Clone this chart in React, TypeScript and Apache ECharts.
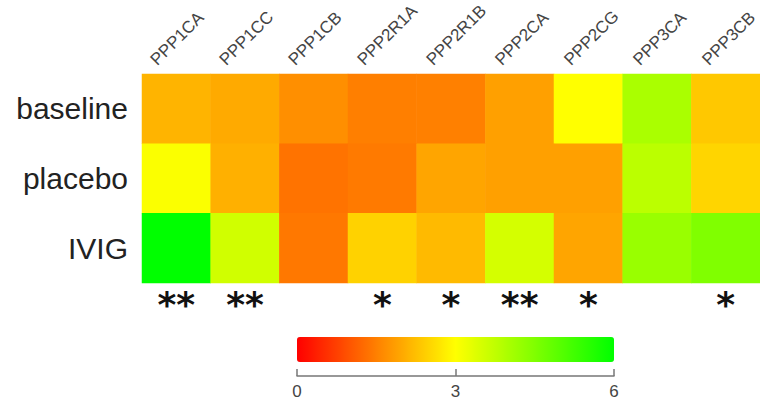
import React, { useEffect, useRef } from "react";
import * as echarts from "echarts";

const categories = ["PPP1CA", "PPP1CC", "PPP1CB", "PPP2R1A", "PPP2R1B", "PPP2CA", "PPP2CG", "PPP3CA", "PPP3CB"];
const groups = ["baseline", "placebo", "IVIG"];
const baseline = [2.12, 2.0, 1.68, 1.49, 1.51, 1.88, 3.0, 4.0, 2.35];
const placebo = [3.05, 2.07, 1.35, 1.44, 1.94, 1.88, 1.88, 3.8, 2.5];
const ivig = [6.0, 3.55, 1.41, 2.47, 2.19, 3.5, 1.94, 4.2, 4.49];
const stars = ["**", "**", "", "*", "*", "**", "*", "", "*"];
const scaleMin = 0;
const scaleMax = 6;
const scaleStep = 3;
const palette = ["#ff0000", "#ffff00", "#00ff00"];

const FONT = "'Liberation Sans', Arial, sans-serif";

export default function App() {
  const ref = useRef<HTMLDivElement>(null);
  useEffect(() => {
    if (!ref.current) return;
    const chart = echarts.init(ref.current, null, { renderer: "svg" });
    const rows = [baseline, placebo, ivig];
    const data: number[][] = [];
    rows.forEach((row, yi) => row.forEach((v, xi) => data.push([xi, yi, v])));
    chart.setOption({
      animation: false,
      backgroundColor: "#ffffff",
      grid: [
        { left: 142, top: 74, width: 631, height: 209 },
        { left: 119, top: 74, width: 631, height: 209 },
        { left: 297, top: 370, width: 317, height: 6 },
      ],
      xAxis: [
        {
          type: "category",
          gridIndex: 0,
          data: categories,
          position: "top",
          axisLine: { show: false },
          axisTick: { show: false },
          axisLabel: { show: false },
          splitLine: { show: false },
        },
        {
          type: "category",
          gridIndex: 0,
          data: categories,
          position: "bottom",
          axisLine: { show: false },
          axisTick: { show: false },
          axisLabel: {
            interval: 0,
            margin: 3,
            fontSize: 36,
            fontWeight: "bold",
            fontFamily: "'DejaVu Sans', sans-serif",
            color: "#111",
            formatter: (_v: string, i: number) => stars[i],
          },
        },
        {
          type: "category",
          gridIndex: 1,
          data: categories,
          position: "top",
          axisLine: { show: false },
          axisTick: { show: false },
          axisLabel: {
            interval: 0,
            rotate: -45,
            margin: 14,
            fontSize: 17,
            fontFamily: FONT,
            color: "#444",
          },
        },
        {
          type: "value",
          gridIndex: 2,
          min: scaleMin,
          max: scaleMax,
          interval: scaleStep,
          position: "bottom",
          axisLine: { show: true, lineStyle: { color: "#777", width: 1.5 } },
          axisTick: { show: true, inside: true, length: 7, lineStyle: { color: "#777", width: 1.5 } },
          axisLabel: { fontSize: 17, fontFamily: FONT, color: "#444", margin: 7 },
          splitLine: { show: false },
        },
      ],
      yAxis: [
        {
          type: "category",
          gridIndex: 0,
          data: groups,
          inverse: true,
          axisLine: { show: false },
          axisTick: { show: false },
          axisLabel: { fontSize: 30, fontFamily: FONT, color: "#222", margin: 14 },
        },
        { type: "category", gridIndex: 1, data: groups, show: false },
        { type: "value", gridIndex: 2, show: false },
      ],
      visualMap: {
        type: "continuous",
        min: scaleMin,
        max: scaleMax,
        seriesIndex: 0,
        dimension: 2,
        orient: "horizontal",
        left: 297,
        top: 337,
        itemWidth: 25,
        itemHeight: 317,
        padding: 0,
        calculable: false,
        hoverLink: false,
        inRange: { color: palette },
      },
      series: [
        {
          type: "heatmap",
          xAxisIndex: 0,
          yAxisIndex: 0,
          data,
          itemStyle: { borderWidth: 0 },
          emphasis: { disabled: true },
          progressive: 0,
        },
      ],
    });
    return () => chart.dispose();
  }, []);
  return (
    <div
      ref={ref}
      style={{ position: "fixed", left: 0, top: 0, width: 760, height: 401, overflow: "hidden" }}
    />
  );
}
